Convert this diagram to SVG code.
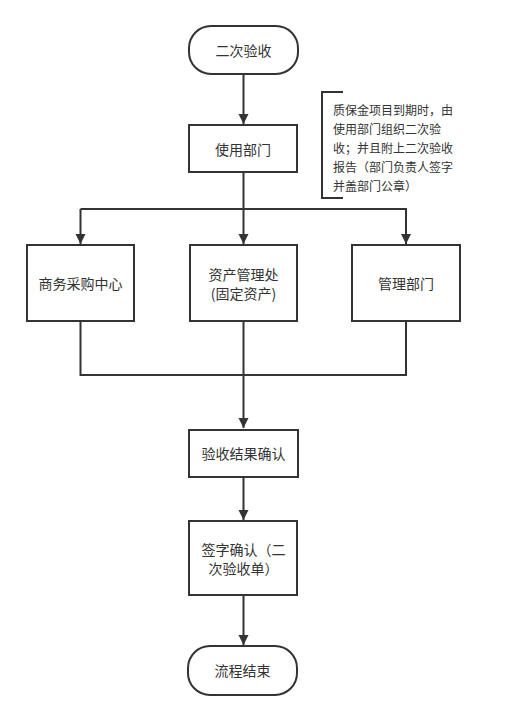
<svg xmlns="http://www.w3.org/2000/svg" width="518" height="720" viewBox="0 0 518 720">
<defs>
<marker id="arr" markerWidth="10" markerHeight="12" refX="10" refY="5" orient="auto" markerUnits="userSpaceOnUse" viewBox="0 0 10 10">
<path d="M0,0 L10,5 L0,10 Z" fill="#333"/>
</marker>
<style>
.n{fill:#fff;stroke:#333;stroke-width:2}
.t{font-family:"Noto Sans CJK SC","Noto Sans",sans-serif;font-size:14px;fill:#333;text-anchor:middle;dominant-baseline:central}
.a{font-family:"Noto Sans CJK SC","Noto Sans",sans-serif;font-size:12px;fill:#333}
.c{fill:none;stroke:#333;stroke-width:2}
</style>
</defs>
<rect width="518" height="720" fill="#fff"/>
<g id="connectors">
<path class="c" d="M243.5,74 V124" marker-end="url(#arr)"/>
<path class="c" d="M243.5,172 V244" marker-end="url(#arr)"/>
<path class="c" d="M80.5,209 H406 V244" marker-end="url(#arr)"/>
<path class="c" d="M80.5,209 V244" marker-end="url(#arr)"/>
<path class="c" d="M80.5,321 V375 H406 V321"/>
<path class="c" d="M243.5,321 V428" marker-end="url(#arr)"/>
<path class="c" d="M243.5,477 V520" marker-end="url(#arr)"/>
<path class="c" d="M243.5,595 V645" marker-end="url(#arr)"/>
</g>
<g id="start">
<rect class="n" x="189" y="26" width="109" height="48" rx="22"/>
<text class="t" x="243.5" y="50">二次验收</text>
</g>
<g id="dept">
<rect class="n" x="189" y="125" width="108" height="47"/>
<text class="t" x="243" y="149">使用部门</text>
</g>
<g id="note">
<path class="c" d="M343,92 H322 V198 H343"/>
<text class="a" x="333" y="109" dominant-baseline="central">质保金项目到期时，由</text>
<text class="a" x="333" y="128" dominant-baseline="central">使用部门组织二次验</text>
<text class="a" x="333" y="147" dominant-baseline="central">收；并且附上二次验收</text>
<text class="a" x="333" y="166" dominant-baseline="central">报告（部门负责人签字</text>
<text class="a" x="333" y="185" dominant-baseline="central">并盖部门公章）</text>
</g>
<g id="biz">
<rect class="n" x="27" y="245" width="107" height="76"/>
<text class="t" x="80.5" y="283">商务采购中心</text>
</g>
<g id="asset">
<rect class="n" x="190" y="245" width="107" height="76"/>
<text class="t" x="243.5" y="274">资产管理处</text>
<text class="t" x="243.5" y="293">(固定资产)</text>
</g>
<g id="mgmt">
<rect class="n" x="352" y="245" width="108" height="76"/>
<text class="t" x="406" y="283">管理部门</text>
</g>
<g id="confirm">
<rect class="n" x="189" y="430" width="109" height="47"/>
<text class="t" x="243.5" y="453">验收结果确认</text>
</g>
<g id="sign">
<rect class="n" x="189" y="521" width="108" height="74"/>
<text class="t" x="243.5" y="549">签字确认（二</text>
<text class="t" x="243.5" y="568">次验收单）</text>
</g>
<g id="end">
<rect class="n" x="188" y="646" width="109" height="49" rx="22"/>
<text class="t" x="242.5" y="670">流程结束</text>
</g>
</svg>
